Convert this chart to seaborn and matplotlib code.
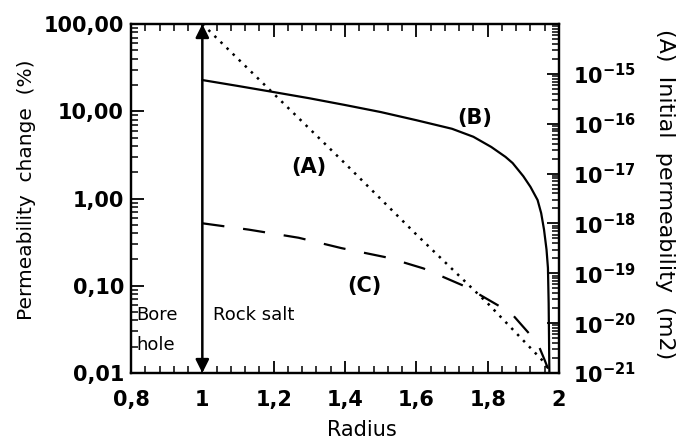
import numpy as np
import pandas as pd
import matplotlib
matplotlib.use("Agg")
import matplotlib.pyplot as plt
import matplotlib.ticker as mticker
import seaborn as sns

# values
radius_b = [1.0, 1.1, 1.2, 1.3, 1.4, 1.5, 1.6, 1.7, 1.76, 1.81, 1.85, 1.87, 1.9, 1.92,
            1.94, 1.95, 1.958, 1.965, 1.969, 1.971, 1.972, 1.973]
change_b = [22.8, 19.5, 16.6, 14.1, 11.8, 9.8, 7.9, 6.3, 5.1, 3.9, 3.0, 2.55, 1.8, 1.36,
            0.96, 0.68, 0.44, 0.26, 0.16, 0.063, 0.025, 0.01]

radius_c = [1.0, 1.13, 1.27, 1.39, 1.52, 1.62, 1.74, 1.865, 1.94, 1.96, 1.97]
change_c = [0.52, 0.44, 0.355, 0.27, 0.21, 0.158, 0.097, 0.049, 0.022, 0.014, 0.011]

radius_a = [1.0, 1.2, 1.4, 1.6, 1.8, 1.96, 1.975]
perm_a = [1e-14, 4e-16, 1.6e-17, 6e-19, 2.5e-20, 1.6e-21, 1e-21]

x_ticks = [0.8, 1.0, 1.2, 1.4, 1.6, 1.8, 2.0]
x_labels = ["0,8", "1", "1,2", "1,4", "1,6", "1,8", "2"]
y_ticks = [0.01, 0.1, 1, 10, 100]
y_labels = ["0,01", "0,10", "1,00", "10,00", "100,00"]
r_ticks = [1e-21, 1e-20, 1e-19, 1e-18, 1e-17, 1e-16, 1e-15]
r_labels = ["$10^{-21}$", "$10^{-20}$", "$10^{-19}$", "$10^{-18}$",
            "$10^{-17}$", "$10^{-16}$", "$10^{-15}$"]

sns.set_style("ticks")
plt.rcParams["font.family"] = ["DejaVu Sans"]
plt.rcParams["mathtext.fontset"] = "custom"
plt.rcParams["mathtext.rm"] = "DejaVu Sans:bold"
plt.rcParams["mathtext.it"] = "DejaVu Sans:bold"
plt.rcParams["mathtext.default"] = "rm"
for key in ["text.color", "axes.labelcolor", "xtick.color", "ytick.color", "axes.edgecolor"]:
    plt.rcParams[key] = "black"

tick_font = dict(size=15, weight="bold")

fig = plt.figure(figsize=(6.77, 4.45), dpi=100)
ax = fig.add_axes([0.1935, 0.1618, 0.6322, 0.7842])
ax2 = ax.twinx()

df_b = pd.DataFrame({"radius": radius_b, "change": change_b})
df_c = pd.DataFrame({"radius": radius_c, "change": change_c})
df_a = pd.DataFrame({"radius": radius_a, "perm": perm_a})

sns.lineplot(data=df_b, x="radius", y="change", ax=ax, color="black", lw=1.6, sort=False)
sns.lineplot(data=df_c, x="radius", y="change", ax=ax, color="black", lw=1.6,
             sort=False, linestyle=(0, (10, 8.5)))
sns.lineplot(data=df_a, x="radius", y="perm", ax=ax2, color="black", lw=1.8,
             sort=False, linestyle=(0, (1, 2.4)))

ax.set_yscale("log")
ax2.set_yscale("log")
ax.set_xlim(0.8, 2.0)
ax.set_ylim(0.01, 100)
ax2.set_ylim(1e-21, 1e-14)

ax.set_xticks(x_ticks)
ax.set_xticklabels(x_labels, fontdict=tick_font)
ax.xaxis.set_minor_locator(mticker.MultipleLocator(0.04))
ax.set_yticks(y_ticks)
ax.set_yticklabels(y_labels, fontdict=tick_font)
ax.yaxis.set_minor_locator(mticker.LogLocator(base=10, subs=np.arange(2, 10)))
ax.yaxis.set_minor_formatter(mticker.NullFormatter())
ax2.set_yticks(r_ticks)
ax2.set_yticklabels(r_labels, fontsize=15)
ax2.yaxis.set_minor_locator(mticker.LogLocator(base=10, subs=np.arange(2, 10)))
ax2.yaxis.set_minor_formatter(mticker.NullFormatter())

ax.tick_params(axis="x", which="major", direction="in", length=9, width=1.3, top=True, pad=12)
ax.tick_params(axis="x", which="minor", direction="in", length=5, width=1.1, top=True)
ax.tick_params(axis="y", which="major", direction="in", length=9, width=1.3, right=False, pad=5)
ax.tick_params(axis="y", which="minor", direction="in", length=5, width=1.1, right=False)
ax2.tick_params(axis="y", which="major", direction="in", length=9, width=1.3, pad=10)
ax2.tick_params(axis="y", which="minor", direction="in", length=5, width=1.1)

for a in (ax, ax2):
    for s in a.spines.values():
        s.set_linewidth(1.6)
        s.set_color("black")

ax.set_xlabel("Radius", fontsize=15)
ax.xaxis.set_label_coords(0.54, -0.135)
ax.set_ylabel("Permeability  change  (%)", fontsize=14.5)
ax.yaxis.set_label_coords(-0.222, 0.524)
ax2.set_ylabel("(A)  Initial  permeability  (m2)", fontsize=16, rotation=-90)
ax2.yaxis.set_label_coords(1.27, 0.513)

# boundary between bore hole and rock salt
wall_x = 1.0
ax.annotate("", xy=(wall_x, 100), xytext=(wall_x, 0.01),
            arrowprops=dict(arrowstyle="<|-|>", color="black", lw=1.8,
                            mutation_scale=20, shrinkA=0, shrinkB=0))

ax.text(1.25, 2.3, "(A)", fontsize=15, fontweight="bold", va="center")
ax.text(1.715, 8.4, "(B)", fontsize=15, fontweight="bold", va="center")
ax.text(1.406, 0.10, "(C)", fontsize=15, fontweight="bold", va="center")
ax.text(1.03, 0.046, "Rock salt", fontsize=13, va="center")
ax.text(0.815, 0.046, "Bore", fontsize=13, va="center")
ax.text(0.815, 0.021, "hole", fontsize=13, va="center")

fig.savefig("out.png", dpi=100)
